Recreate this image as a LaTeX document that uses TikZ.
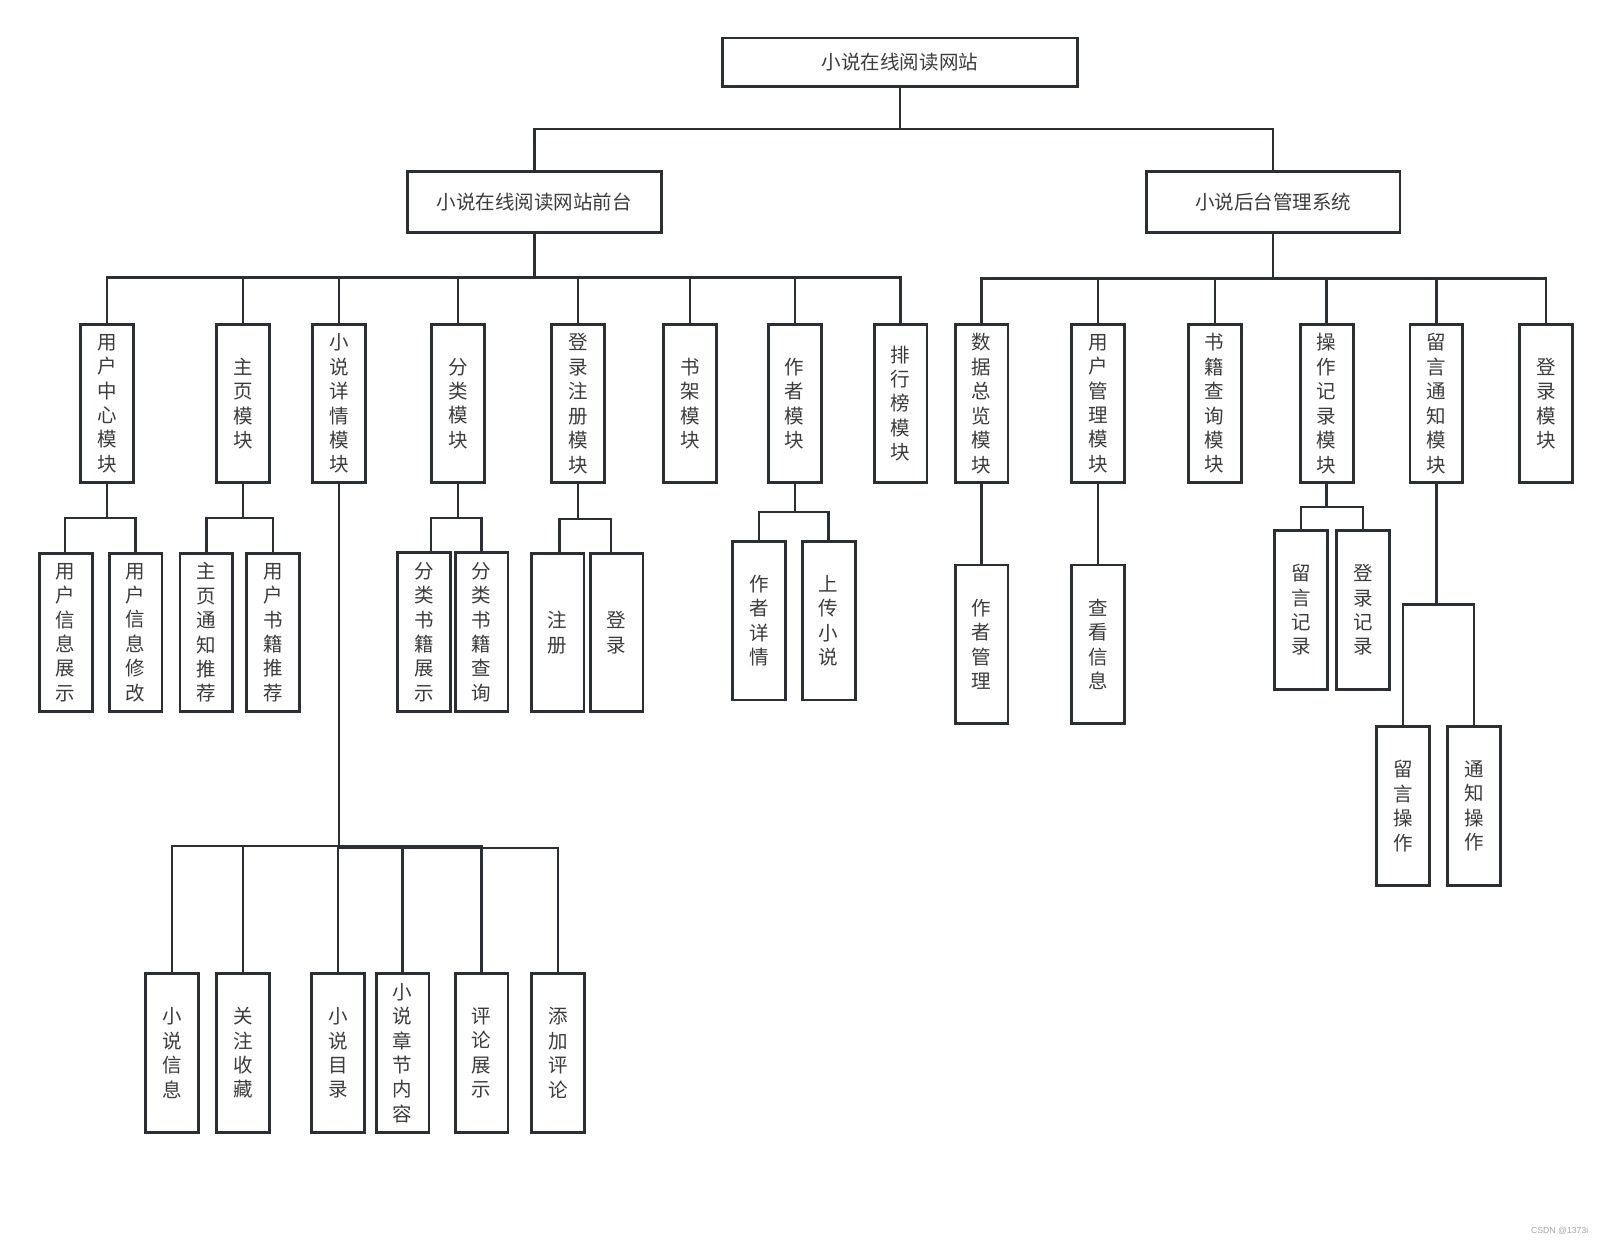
\documentclass[tikz,border=0pt]{standalone}
\usepackage{fontspec}
\newfontfamily\cjk{Noto Sans CJK SC}
\newfontfamily\wmfont{Liberation Sans}
\definecolor{linec}{HTML}{2B2F33}
\definecolor{textc}{HTML}{3C3C3C}
\begin{document}
\begin{tikzpicture}[x=1pt,y=-1pt,
  box/.style={draw=linec, line width=2.8pt, fill=white, inner sep=0pt, text=textc,
    font=\cjk\fontsize{19}{23.8}\selectfont, align=center},
  vbox/.style={box, minimum width=51.5pt, minimum height=154.5pt},
  conn/.style={draw=linec, line width=2.2pt}]
\useasboundingbox[fill=white] (0,0) rectangle (1568,1213);

% level 0/1
\node[box, minimum width=346.5pt, minimum height=47pt] (root) at (876.5,60.5) {小说在线阅读网站};
\node[box, minimum width=247pt, minimum height=59.5pt] (front) at (520.5,197) {小说在线阅读网站前台};
\node[box, minimum width=247pt, minimum height=59.5pt] (back) at (1240,197) {小说后台管理系统};

% level 2 front
\node[vbox] (uc) at (104,393) {用\\户\\中\\心\\模\\块};
\node[vbox] (hp) at (237,393) {主\\页\\模\\块};
\node[vbox] (nd) at (330,393) {小\\说\\详\\情\\模\\块};
\node[vbox] (cat) at (446,393) {分\\类\\模\\块};
\node[vbox] (lr) at (563,393) {登\\录\\注\\册\\模\\块};
\node[vbox] (shelf) at (672,393) {书\\架\\模\\块};
\node[vbox] (auth) at (774,393) {作\\者\\模\\块};
\node[vbox] (rank) at (877,393) {排\\行\\榜\\模\\块};

% level 2 back
\node[vbox] (data) at (956,393) {数\\据\\总\\览\\模\\块};
\node[vbox] (um) at (1069.5,393) {用\\户\\管\\理\\模\\块};
\node[vbox] (bq) at (1183,393) {书\\籍\\查\\询\\模\\块};
\node[vbox] (op) at (1292,393) {操\\作\\记\\录\\模\\块};
\node[vbox] (msg) at (1399,393) {留\\言\\通\\知\\模\\块};
\node[vbox] (login) at (1506,393) {登\\录\\模\\块};

% level 3 front
\node[vbox] (uc1) at (64,616) {用\\户\\信\\息\\展\\示};
\node[vbox] (uc2) at (132,616) {用\\户\\信\\息\\修\\改};
\node[vbox] (hp1) at (201,616) {主\\页\\通\\知\\推\\荐};
\node[vbox] (hp2) at (266,616) {用\\户\\书\\籍\\推\\荐};
\node[vbox] (cat1) at (413,615.5) {分\\类\\书\\籍\\展\\示};
\node[vbox] (cat2) at (469,615.5) {分\\类\\书\\籍\\查\\询};
\node[vbox] (lr1) at (543,616) {注\\册};
\node[vbox] (lr2) at (600.5,616) {登\\录};
\node[vbox] (auth1) at (739,604.5) {作\\者\\详\\情};
\node[vbox] (auth2) at (807,604.5) {上\\传\\小\\说};

\node[vbox] (nd1) at (167.5,1025.5) {小\\说\\信\\息};
\node[vbox] (nd2) at (237,1025.5) {关\\注\\收\\藏};
\node[vbox] (nd3) at (329.5,1025.5) {小\\说\\目\\录};
\node[vbox] (nd4) at (392,1025.5) {小\\说\\章\\节\\内\\容};
\node[vbox] (nd5) at (469,1025.5) {评\\论\\展\\示};
\node[vbox] (nd6) at (543.7,1025.5) {添\\加\\评\\论};

% level 3 back
\node[vbox] (data1) at (956,627.5) {作\\者\\管\\理};
\node[vbox] (um1) at (1069.5,627.5) {查\\看\\信\\息};
\node[vbox] (op1) at (1267,594) {留\\言\\记\\录};
\node[vbox] (op2) at (1327.5,594) {登\\录\\记\\录};
\node[vbox] (msg1) at (1366.7,785) {留\\言\\操\\作};
\node[vbox] (msg2) at (1435.5,785) {通\\知\\操\\作};

% connectors level 0 -> 1
\draw[conn] (root.south) -- ++(0,40) -| (front.north);
\draw[conn] (root.south) -- ++(0,40) -| (back.north);

% front -> level 2
\foreach \c in {uc,hp,nd,cat,lr,shelf,auth,rank}
  \draw[conn] (front.south) -- ++(0,42) -| (\c.north);
% back -> level 2
\foreach \c in {data,um,bq,op,msg,login}
  \draw[conn] (back.south) -- ++(0,43) -| (\c.north);

% level 2 -> 3 front
\draw[conn] (uc.south) -- ++(0,33) -| ([xshift=-1pt]uc1.north);
\draw[conn] (uc.south) -- ++(0,33) -| (uc2.north);
\draw[conn] (hp.south) -- ++(0,33) -| (hp1.north);
\draw[conn] (hp.south) -- ++(0,33) -| (hp2.north);
\draw[conn] (cat.south) -- ++(0,33) -| ([xshift=7pt]cat1.north);
\draw[conn] (cat.south) -- ++(0,33) -| (cat2.north);
\draw[conn] (lr.south) -- ++(0,34) -| ([xshift=2pt]lr1.north);
\draw[conn] (lr.south) -- ++(0,34) -| ([xshift=-5.5pt]lr2.north);
\draw[conn] (auth.south) -- ++(0,27) -| (auth1.north);
\draw[conn] (auth.south) -- ++(0,27) -| (auth2.north);
\foreach \c in {nd1,nd2,nd3,nd4,nd5}
  \draw[conn] (nd.south) -- ++(0,352) -| (\c.north);
\draw[conn] (nd.south) -- ++(0,354) -| (nd6.north);

% level 2 -> 3 back
\draw[conn] (data.south) -- (data1.north);
\draw[conn] (um.south) -- (um1.north);
\draw[conn] (op.south) -- ++(0,22) -| (op1.north);
\draw[conn] (op.south) -- ++(0,22) -| (op2.north);
\draw[conn] (msg.south) -- ++(0,117) -| (msg1.north);
\draw[conn] (msg.south) -- ++(0,117) -| (msg2.north);

% watermark
\node[text=gray!70, font=\wmfont\fontsize{8.5}{10}\selectfont, inner sep=0pt] (wm) at (1519,1199) {CSDN @1373i};
\end{tikzpicture}
\end{document}
